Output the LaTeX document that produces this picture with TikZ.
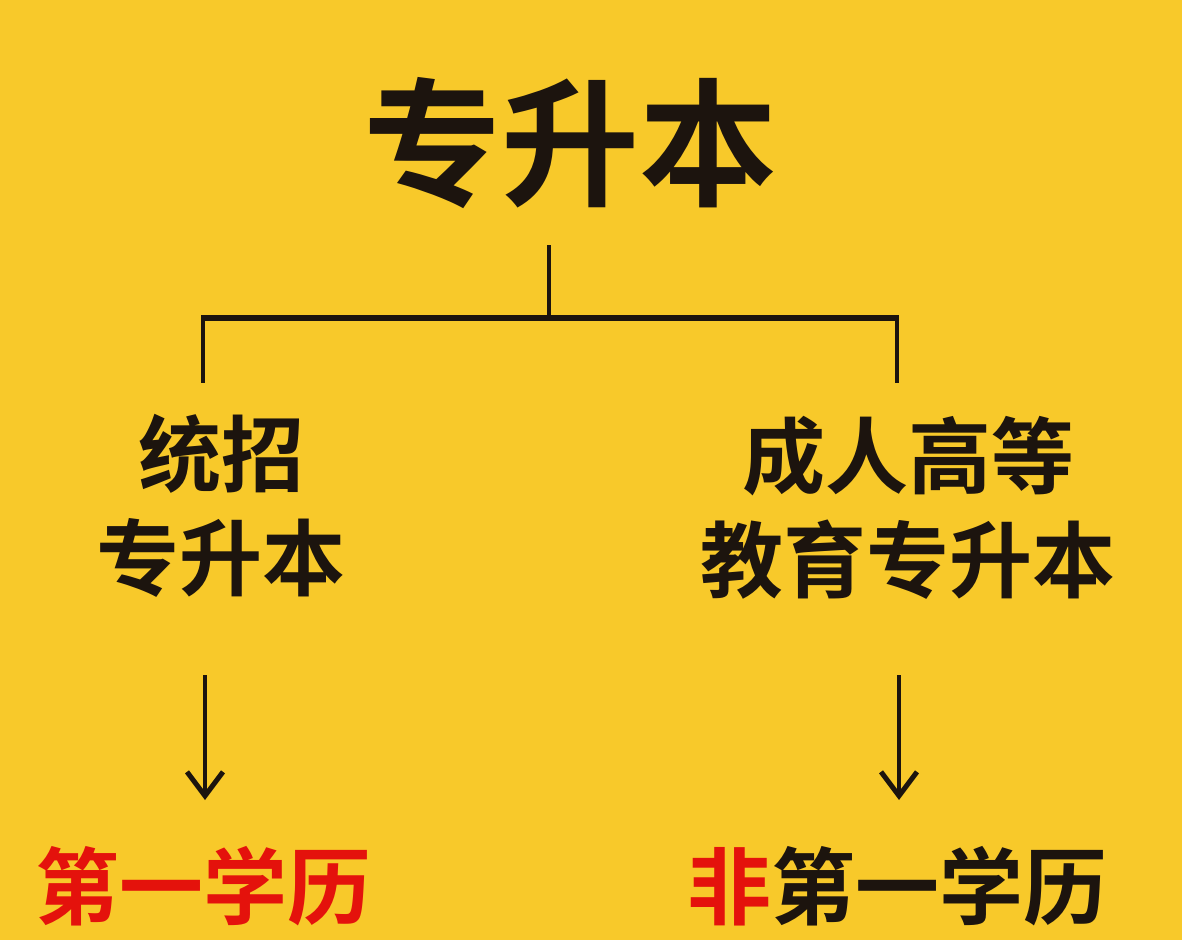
\documentclass[tikz,border=0pt]{standalone}
\usepackage{fontspec}
\usetikzlibrary{arrows.meta}
\newfontfamily\cjk{Noto Sans CJK SC}[BoldFont={* Bold}]
\definecolor{bgyellow}{HTML}{F8C92A}
\definecolor{inkred}{HTML}{E4120C}
\definecolor{ink}{HTML}{1C140E}
\tikzset{
  bigtitle/.style={text=ink,font=\cjk\bfseries\fontsize{138}{150}\selectfont},
  branch/.style={text=ink,align=center,font=\cjk\bfseries\fontsize{83}{104}\selectfont},
  result/.style={text=ink,font=\cjk\bfseries\fontsize{84}{96}\selectfont},
  treeline/.style={ink,line width=4.5pt},
  down/.style={ink,line width=4.5pt,-{Straight Barb[length=24pt,width=36pt,line width=5pt]}}
}
\begin{document}
\begin{tikzpicture}[x=1pt,y=-1pt]
  \fill[bgyellow] (0,0) rectangle (1182,940);
  \useasboundingbox (0,0) rectangle (1182,940);
  \node[bigtitle] (title) at (570,143) {专升本};
  % fork under the title
  \coordinate (root) at (549,245);
  \coordinate (fork) at (549,318);
  \coordinate (ldrop) at (203,383);
  \coordinate (rdrop) at (897,383);
  \draw[treeline] (root) -- (fork);
  \draw[treeline,line width=6.5pt] (ldrop |- fork) -- (rdrop |- fork);
  \draw[treeline] (ldrop |- fork) ++(0,-3) -- (ldrop);
  \draw[treeline] (rdrop |- fork) ++(0,-3) -- (rdrop);
  \node[branch] (tongzhao) at (221,506) {统招\\专升本};
  \node[branch] (chengren) at (908,508) {成人高等\\教育专升本};
  \coordinate (ltop) at (205,675);
  \coordinate (rtop) at (899,675);
  \node[result,text=inkred] (first) at (203,886) {第一学历};
  \node[result] (notfirst) at (897,886) {\textcolor{inkred}{非}第一学历};
  \draw[down] (ltop) -- (205,800) coordinate (lend);
  \draw[down] (rtop) -- (899,800) coordinate (rend);
\end{tikzpicture}
\end{document}
